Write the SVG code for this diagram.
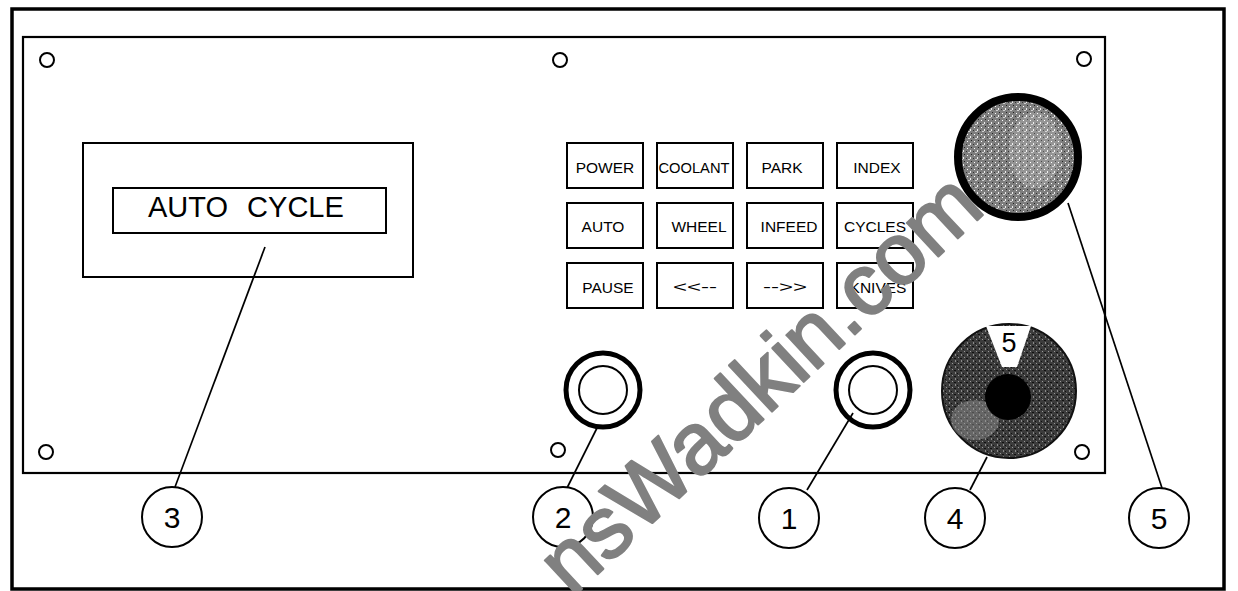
<svg xmlns="http://www.w3.org/2000/svg" width="1238" height="591" viewBox="0 0 1238 591">
<defs>
<style>
.frame{fill:none;stroke:#000;stroke-width:3.5}
.panel{fill:#fff;stroke:#000;stroke-width:2.2}
.box{fill:#fff;stroke:#000;stroke-width:2}
.kt{font-family:"Liberation Sans",Arial,sans-serif;font-size:15.5px;text-anchor:middle;fill:#000}
.hole{fill:#fff;stroke:#000;stroke-width:2}
.cc{fill:#fff;stroke:#000;stroke-width:2}
.num{font-family:"Liberation Sans",Arial,sans-serif;font-size:30px;text-anchor:middle;fill:#000}
.lead{stroke:#000;stroke-width:1.7;fill:none}
.wm{font-family:"Liberation Sans",Arial,sans-serif;font-size:87px;fill:#808080;stroke:#808080;stroke-width:2.2;stroke-linejoin:round}
</style>
<pattern id="pg" width="7" height="7" patternUnits="userSpaceOnUse">
<rect width="7" height="7" fill="#7e7e7e"/>
<rect x="1" y="1" width="1" height="1" fill="#fff"/>
<rect x="4" y="3" width="1" height="2" fill="#eee"/>
<rect x="2" y="5" width="2" height="1" fill="#cfcfcf"/>
<rect x="5" y="0" width="1" height="1" fill="#222"/>
<rect x="0" y="4" width="1" height="1" fill="#333"/>
</pattern>
<pattern id="pd" width="6" height="6" patternUnits="userSpaceOnUse">
<rect width="6" height="6" fill="#3c3c3c"/>
<rect x="1" y="0" width="1" height="2" fill="#8a8a8a"/>
<rect x="4" y="3" width="1" height="1" fill="#999"/>
<rect x="3" y="1" width="1" height="1" fill="#111"/>
<rect x="0" y="4" width="2" height="1" fill="#111"/>
</pattern>
</defs>

<g id="frame">
<path class="frame" d="M12 9 H1224 V589 H12 Z"/>
</g>

<g id="panel">
<rect class="panel" x="23" y="37" width="1082" height="436"/>
<circle class="hole" cx="47" cy="60" r="7"/>
<circle class="hole" cx="560" cy="60" r="7"/>
<circle class="hole" cx="1084" cy="59" r="7"/>
<circle class="hole" cx="46" cy="452" r="7"/>
<circle class="hole" cx="558" cy="450" r="7"/>
<circle class="hole" cx="1082" cy="452" r="7"/>
</g>

<g id="display">
<rect class="box" x="83" y="143" width="330" height="134"/>
<rect class="box" x="113" y="188" width="273" height="45"/>
<text x="148" y="217" font-family="Liberation Sans, Arial, sans-serif" font-size="29" fill="#000">AUTO <tspan dx="11">CYCLE</tspan></text>
</g>

<g id="keypad">
<g id="key-power"><rect class="box" x="567" y="143" width="76" height="45"/><text class="kt" x="605" y="173">POWER</text></g>
<g id="key-coolant"><rect class="box" x="657" y="143" width="76" height="45"/><text class="kt" x="694" y="173" textLength="71" lengthAdjust="spacingAndGlyphs">COOLANT</text></g>
<g id="key-park"><rect class="box" x="747" y="143" width="76" height="45"/><text class="kt" x="782" y="173">PARK</text></g>
<g id="key-index"><rect class="box" x="837" y="143" width="76" height="45"/><text class="kt" x="877" y="173">INDEX</text></g>
<g id="key-auto"><rect class="box" x="567" y="203" width="76" height="45"/><text class="kt" x="603" y="232">AUTO</text></g>
<g id="key-wheel"><rect class="box" x="657" y="203" width="76" height="45"/><text class="kt" x="699" y="232">WHEEL</text></g>
<g id="key-infeed"><rect class="box" x="747" y="203" width="76" height="45"/><text class="kt" x="789" y="232">INFEED</text></g>
<g id="key-cycles"><rect class="box" x="837" y="203" width="76" height="45"/><text class="kt" x="875" y="232">CYCLES</text></g>
<g id="key-pause"><rect class="box" x="567" y="263" width="76" height="45"/><text class="kt" x="608" y="293">PAUSE</text></g>
<g id="key-left"><rect class="box" x="657" y="263" width="76" height="45"/><text class="kt" x="695" y="292" font-size="20" textLength="44" lengthAdjust="spacingAndGlyphs">&lt;&lt;--</text></g>
<g id="key-right"><rect class="box" x="747" y="263" width="76" height="45"/><text class="kt" x="785" y="292" font-size="20" textLength="44" lengthAdjust="spacingAndGlyphs">--&gt;&gt;</text></g>
<g id="key-knives"><rect class="box" x="837" y="263" width="76" height="45"/><text class="kt" x="878" y="293">KNIVES</text></g>
</g>

<g id="pushbutton-2">
<circle cx="603" cy="390" r="37" fill="#fff" stroke="#000" stroke-width="5"/>
<circle cx="603" cy="390" r="24" fill="#fff" stroke="#000" stroke-width="2"/>
</g>
<g id="pushbutton-1">
<circle cx="873" cy="390" r="37" fill="#fff" stroke="#000" stroke-width="5"/>
<circle cx="873" cy="390" r="24" fill="#fff" stroke="#000" stroke-width="2"/>
</g>

<g id="keyswitch-4">
<circle cx="1009" cy="391" r="67" fill="url(#pd)" stroke="#111" stroke-width="2"/>
<ellipse cx="975" cy="420" rx="24" ry="20" fill="#9a9a9a" opacity="0.45"/>
<circle cx="1008" cy="397" r="23" fill="#000"/>
<path d="M986 326 H1031 L1017 367 H1002 Z" fill="#fff"/>
<text x="1009" y="352" font-family="Liberation Sans, Arial, sans-serif" font-size="27" text-anchor="middle" fill="#000">5</text>
</g>

<g id="stop-5">
<circle cx="1018" cy="157" r="60" fill="url(#pg)" stroke="#000" stroke-width="8"/>
<ellipse cx="1035" cy="150" rx="26" ry="38" fill="#fff" opacity="0.18"/>
</g>

<g id="connectors">
<line class="lead" x1="265" y1="247" x2="175" y2="487"/>
<line class="lead" x1="597" y1="428" x2="567" y2="488"/>
<line class="lead" x1="853" y1="413" x2="807" y2="490"/>
<line class="lead" x1="987" y1="457" x2="970" y2="490"/>
<line class="lead" x1="1068" y1="203" x2="1162" y2="488"/>
</g>

<g id="callout-3"><circle class="cc" cx="172" cy="517" r="30"/><text class="num" x="172" y="528">3</text></g>
<g id="callout-2"><circle class="cc" cx="563" cy="517" r="30"/><text class="num" x="563" y="528">2</text></g>
<g id="callout-1"><circle class="cc" cx="789" cy="518" r="30"/><text class="num" x="789" y="529">1</text></g>
<g id="callout-4"><circle class="cc" cx="955" cy="518" r="30"/><text class="num" x="955" y="529">4</text></g>
<g id="callout-5"><circle class="cc" cx="1159" cy="518" r="30"/><text class="num" x="1159" y="529">5</text></g>

<g id="watermark">
<text class="wm" x="572" y="598" transform="rotate(-43 572 598)">nsWadkin.com</text>
</g>
</svg>
